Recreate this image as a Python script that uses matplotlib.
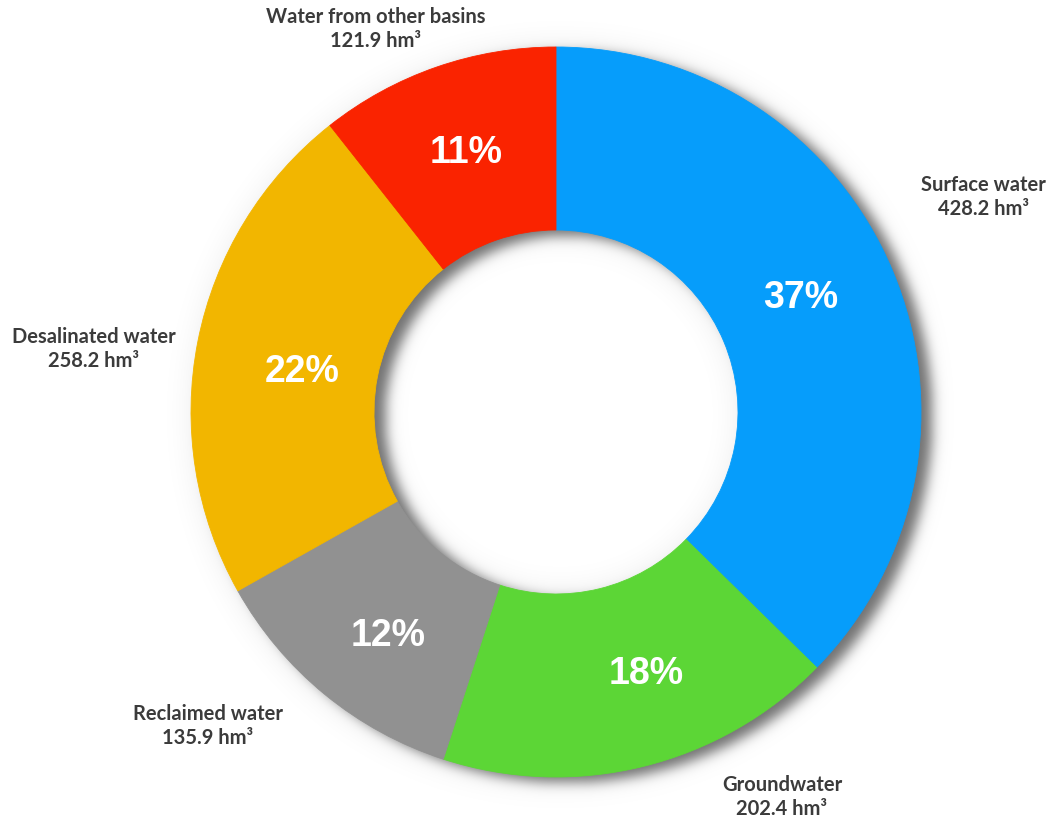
import numpy as np
import matplotlib.pyplot as plt

# water supply by origin, hm3
sources = ['Surface water', 'Groundwater', 'Reclaimed water',
           'Desalinated water', 'Water from other basins']
volumes = [428.2, 202.4, 135.9, 258.2, 121.9]
colors = ['#069dfb', '#5cd636', '#919191', '#f2b600', '#fa2300']

# label anchors (pixels from top-left)
name_pos = [(983, 197), (782, 797), (208, 726), (94, 349), (376, 29)]
pct_pos = [(801, 298), (646, 674), (388, 636), (302, 372), (466, 153)]

W, H = 1050, 821
CX, CY = 556, 412
R_OUT, R_IN = 365, 182


def rounded_percents(vals):
    # largest remainder so the shares add up to 100
    raw = np.array(vals) / np.sum(vals) * 100
    base = np.floor(raw).astype(int)
    left = 100 - base.sum()
    order = np.argsort(-(raw - base))
    base[order[:left]] += 1
    return base


def blur(img, sigma):
    k = int(3 * sigma)
    x = np.arange(-k, k + 1)
    g = np.exp(-x**2 / (2 * sigma**2))
    g /= g.sum()
    img = np.apply_along_axis(lambda r: np.convolve(r, g, mode='same'), 1, img)
    img = np.apply_along_axis(lambda c: np.convolve(c, g, mode='same'), 0, img)
    return img


def ring_shadow(dx, dy, sigma, grow=0):
    yy, xx = np.mgrid[0:H, 0:W]
    d = np.hypot(xx - CX - dx, yy - CY - dy)
    mask = ((d <= R_OUT + grow) & (d >= R_IN - grow)).astype(float)
    return blur(mask, sigma)


fig = plt.figure(figsize=(W / 100, H / 100), dpi=100)
ax = fig.add_axes([0, 0, 1, 1])

# soft drop shadow under the ring: a wide faint halo plus a tighter darker one
halo = ring_shadow(4, 2, 14, grow=8) * 0.06
core = ring_shadow(11, 5, 6) * 0.5
alpha = np.clip(halo + core, 0, 1)
shade = np.zeros((H, W, 4))
shade[..., 3] = alpha
ax.imshow(shade, extent=(0, W, H, 0), zorder=1, interpolation='bilinear')

# y axis is flipped below, so counter-clockwise from -90 runs clockwise from the top
wedges, _ = ax.pie(volumes, colors=colors, startangle=-90, counterclock=True,
                   radius=R_OUT, center=(CX, CY),
                   wedgeprops=dict(width=R_OUT - R_IN, linewidth=0.6))
for w, c in zip(wedges, colors):
    w.set_edgecolor(c)
    w.set_zorder(2)

ax.set_xlim(0, W)
ax.set_ylim(H, 0)
ax.set_aspect('equal')
ax.axis('off')

pcts = rounded_percents(volumes)
for (x, y), p in zip(pct_pos, pcts):
    ax.text(x, y, f'{p}%', color='white', fontsize=27, fontweight='bold',
            family='Liberation Sans', ha='center', va='center', zorder=3)

for (x, y), name, v in zip(name_pos, sources, volumes):
    ax.text(x, y, f'{name}\n{v:.1f} hm³', color='#3b3b3b', fontsize=14.5,
            fontweight='bold', family=['Lato', 'DejaVu Sans'], ha='center',
            va='center', linespacing=1.25, zorder=3)

fig.savefig('out.png', dpi=100, facecolor='white')
